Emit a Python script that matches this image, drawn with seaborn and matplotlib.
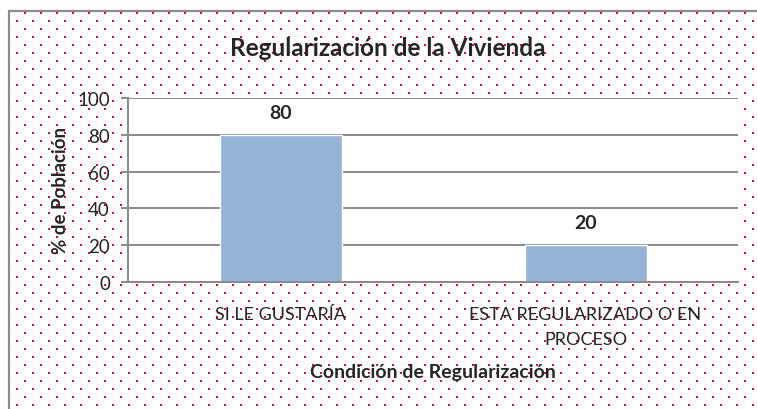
import numpy as np
import pandas as pd
import matplotlib
matplotlib.use("Agg")
import matplotlib.pyplot as plt
import seaborn as sns

categories = ["SI LE GUSTARÍA", "ESTA REGULARIZADO O EN\nPROCESO"]
values = [80, 20]
y_ticks = [0, 20, 40, 60, 80, 100]

data = pd.DataFrame({"Condicion": categories, "Poblacion": values})

sns.set_style("white")
plt.rcParams["font.family"] = ["Lato", "DejaVu Sans"]

W, H = 757, 410
fig = plt.figure(figsize=(W / 100, H / 100), dpi=100)

# dotted background frame (cut off at right and bottom), pixel coordinates
bg = fig.add_axes([0, 0, 1, 1], zorder=0)
bg.set_xlim(0, W)
bg.set_ylim(H, 0)
bg.plot([9, 9], [12, H + 5], color="#8c8c8c", linewidth=1.6)
bg.plot([9, W + 5], [12, 12], color="#8c8c8c", linewidth=1.6)
xs, ys = [], []
for i, yy in enumerate(np.arange(13.5, H + 10, 8)):
    start = 25 if i % 2 == 0 else 17
    for xx in np.arange(start, W + 10, 16):
        xs.append(xx)
        ys.append(yy)
bg.scatter(xs, ys, s=2.2, marker="s", color="#ff0000", linewidths=0, zorder=3)
bg.set_axis_off()

ax = fig.add_axes([128 / W, (H - 283) / H, 610 / W, 184 / H], zorder=1)
ax.set_facecolor("white")
sns.barplot(data=data, x="Condicion", y="Poblacion", color="#95b3d7",
            width=0.4, saturation=1, ax=ax, zorder=2)
ax.set_xlim(-0.5, 1.5)
ax.set_ylim(0, 100)
ax.set_yticks(y_ticks)
ax.yaxis.grid(True, color="#8a8a8a", linewidth=1.4, zorder=0)
ax.set_axisbelow(True)

for p, v in zip(ax.patches, values):
    ax.annotate(str(v), (p.get_x() + p.get_width() / 2, v),
                xytext=(0, 10), textcoords="offset points",
                ha="center", va="bottom", fontsize=14, fontweight="bold")

for side in ["top", "right"]:
    ax.spines[side].set_visible(False)
for side in ["left", "bottom"]:
    ax.spines[side].set_color("#8a8a8a")
    ax.spines[side].set_linewidth(1.4)

ax.tick_params(axis="y", length=5, width=1.4, color="#8a8a8a", left=True,
               labelsize=13.5, pad=8)
ax.tick_params(axis="x", length=0, labelsize=13, pad=17)
for lbl in ax.get_xticklabels():
    lbl.set_linespacing(1.75)
ax.set_xlabel("Condición de Regularización", fontsize=14, fontweight="bold",
              labelpad=11)
ax.set_ylabel("% de Población", fontsize=13.5, fontweight="bold", labelpad=6)

fig.text(388 / W, 1 - 48 / H, "Regularización de la Vivienda", ha="center",
         va="center", fontsize=17.5, fontweight="bold")

fig.savefig("out.png", dpi=100)
